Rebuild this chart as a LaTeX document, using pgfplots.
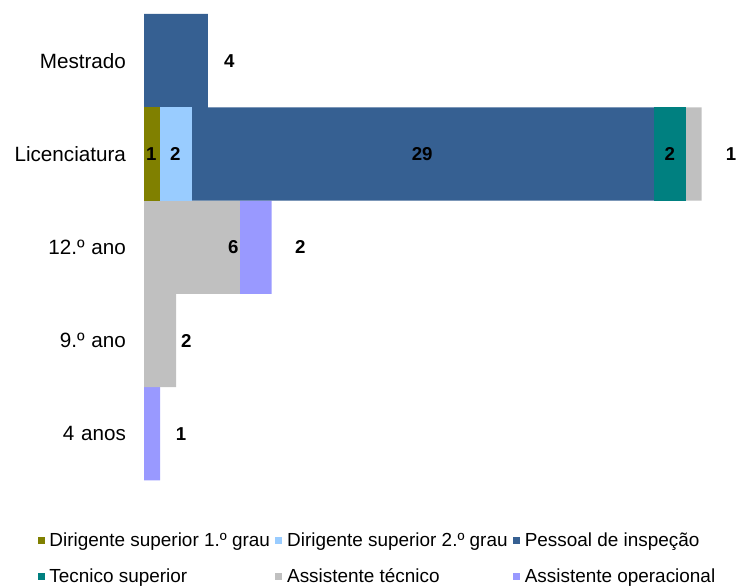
\documentclass[border=0pt]{standalone}
\usepackage{pgfplots}
\pgfplotsset{compat=1.18}
\usepackage{pgfplotstable}
\usepackage{fontspec}
\setmainfont{Liberation Sans}

\definecolor{dsa}{HTML}{808000}
\definecolor{dsb}{HTML}{99CCFF}
\definecolor{pin}{HTML}{366092}
\definecolor{tsu}{HTML}{008080}
\definecolor{ate}{HTML}{C0C0C0}
\definecolor{aop}{HTML}{9999FF}

% y: 0 = 4 anos ... 4 = Mestrado
\pgfplotstableread{
y d1 d2 pin ts ast ao
0 0 0 0 0 0 1
1 0 0 0 0 2 0
2 0 0 0 0 6 2
3 1 2 29 2 1 0
4 0 0 4 0 0 0
}\escol

\begin{document}
\begin{tikzpicture}
\begin{axis}[
  x=11.95pt, y=70pt,
  xmin=0, xmax=37.9, ymin=-0.5, ymax=4.65,
  xbar stacked, bar width=1,
  legend image code/.code={\fill[#1] (0pt,-2.7pt) rectangle (5.4pt,2.7pt);},
  axis line style={draw=none},
  xtick=\empty,
  ytick={0,...,4},
  yticklabels={4 anos,9.º ano,12.º ano,Licenciatura,Mestrado},
  major tick length=0pt,
  yticklabel style={font=\fontsize{15.5}{18}\selectfont, text width=94.5pt, align=right, inner sep=0pt, xshift=-13.5pt},
  clip=false,
  legend columns=3,
  legend style={draw=none, inner sep=0pt, font=\fontsize{14.2}{17}\selectfont,
    at={(axis description cs:-0.177,-0.105)}, anchor=north west,
    row sep=13pt,
    nodes={inner sep=1pt},
    /tikz/every odd column/.append style={column sep=2.5pt},
    /tikz/every even column/.append style={column sep=3pt}},
  legend cell align=left,
]
\addplot[fill=dsa, draw=none] table[x=d1,y=y]{\escol};
\addplot[fill=dsb, draw=none] table[x=d2,y=y]{\escol};
\addplot[fill=pin, draw=none] table[x=pin,y=y]{\escol};
\addplot[fill=tsu, draw=none] table[x=ts,y=y]{\escol};
\addplot[fill=ate, draw=none] table[x=ast,y=y]{\escol};
\addplot[fill=aop, draw=none] table[x=ao,y=y]{\escol};
\legend{Dirigente superior 1.º grau,Dirigente superior 2.º grau\hspace{16pt},Pessoal de inspeção,Tecnico superior,Assistente técnico,Assistente operacional}

% label positions
\coordinate (m1) at (axis cs:5.34,4);
\coordinate (l1) at (axis cs:0.44,3);
\coordinate (l2) at (axis cs:1.95,3);
\coordinate (l3) at (axis cs:17.45,3);
\coordinate (l4) at (axis cs:33.0,3);
\coordinate (l5) at (axis cs:36.85,3);
\coordinate (a1) at (axis cs:5.59,2);
\coordinate (a2) at (axis cs:9.8,2);
\coordinate (n1) at (axis cs:2.64,1);
\coordinate (q1) at (axis cs:2.32,0);
\end{axis}
\begin{scope}[every node/.style={font=\bfseries\fontsize{14}{16}\selectfont}]
\node at (m1) {4};
\node at (l1) {1};
\node at (l2) {2};
\node at (l3) {29};
\node at (l4) {2};
\node at (l5) {1};
\node at (a1) {6};
\node at (a2) {2};
\node at (n1) {2};
\node at (q1) {1};
\end{scope}
\end{tikzpicture}
\end{document}
